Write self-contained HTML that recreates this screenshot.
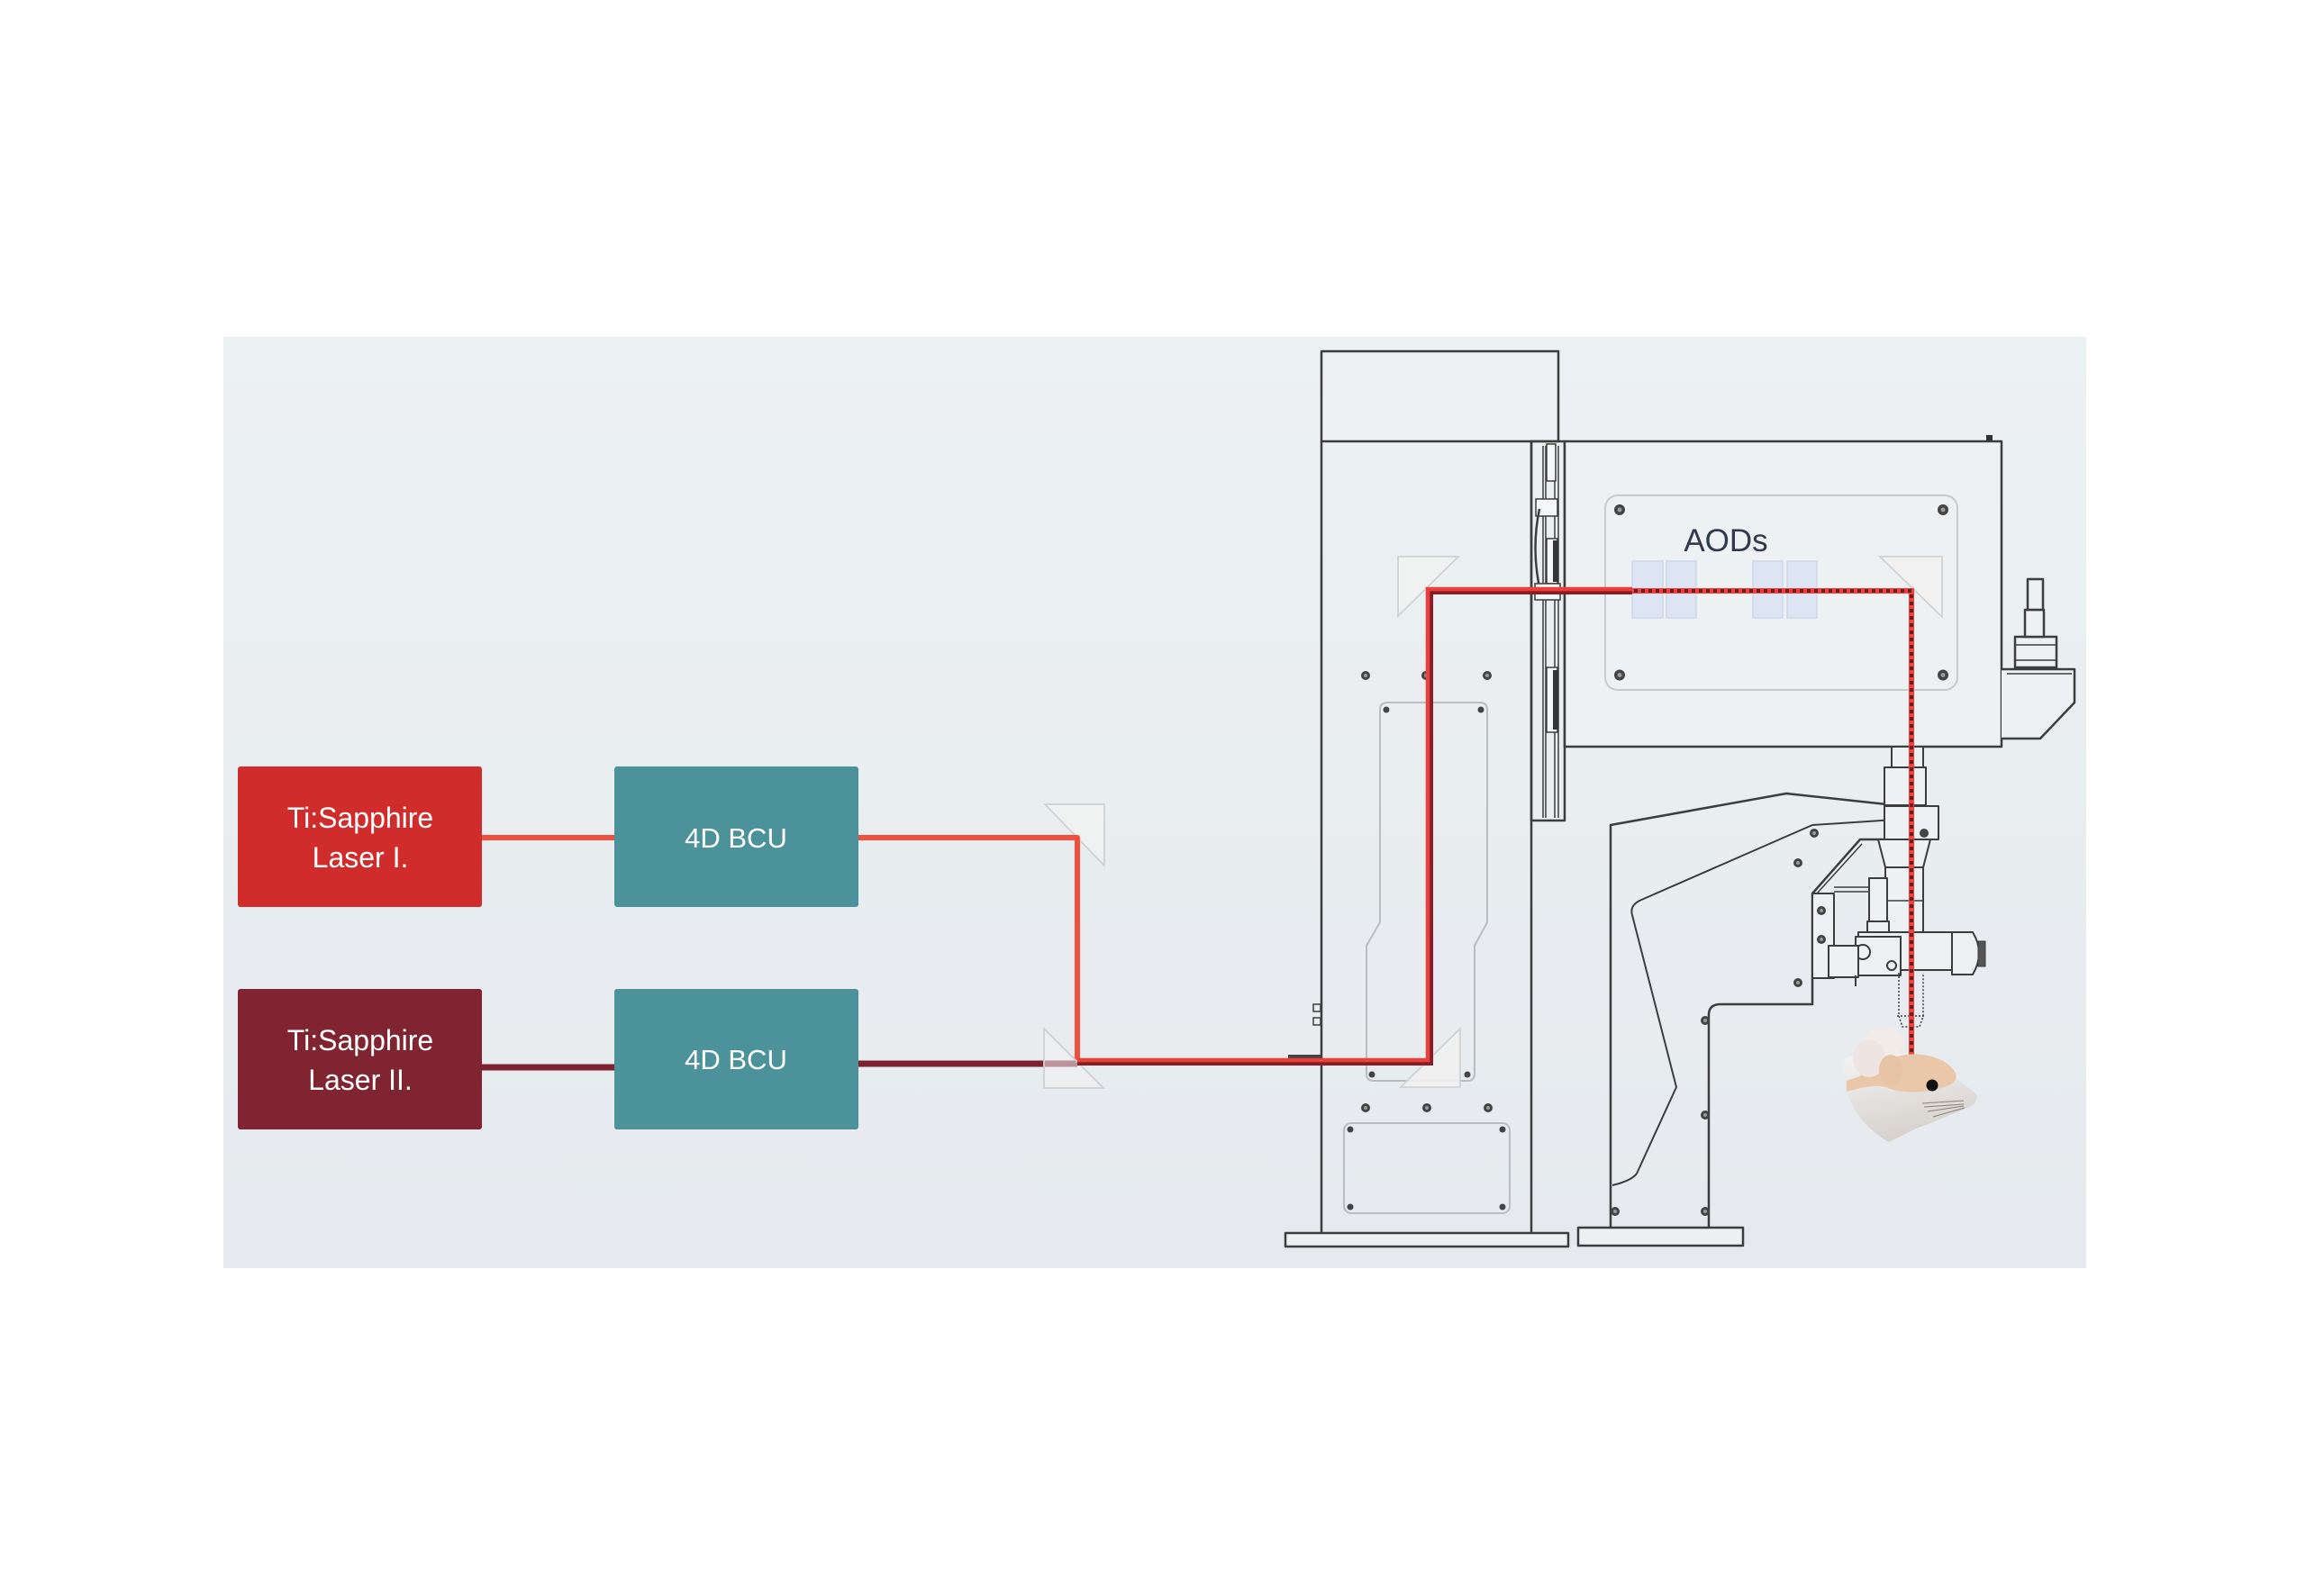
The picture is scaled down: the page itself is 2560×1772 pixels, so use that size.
<!DOCTYPE html>
<html>
<head>
<meta charset="utf-8">
<style>
  html, body { margin:0; padding:0; background:#ffffff; }
  svg { display:block; }
  .t { font-family: "Liberation Sans", Arial, sans-serif; fill:#ffffff; }
</style>
</head>
<body>
<svg width="2560" height="1772" viewBox="0 0 2560 1772" xmlns="http://www.w3.org/2000/svg">
  <defs>
    <linearGradient id="pg" x1="0" y1="0" x2="0" y2="1">
      <stop offset="0" stop-color="#ecf1f3"/>
      <stop offset="1" stop-color="#e6eaee"/>
    </linearGradient>
    <linearGradient id="mh" x1="0" y1="0" x2="0.3" y2="1">
      <stop offset="0" stop-color="#f4f4f4"/>
      <stop offset="1" stop-color="#d6d1cc"/>
    </linearGradient>
  </defs>

  <rect x="0" y="0" width="2560" height="1772" fill="#ffffff"/>
  <rect x="248" y="374" width="2068" height="1034" fill="url(#pg)"/>

  <!-- Boxes -->
  <rect x="264" y="851" width="271" height="156" rx="3" fill="#d02c2c"/>
  <rect x="264" y="1098" width="271" height="156" rx="3" fill="#812431"/>
  <rect x="682" y="851" width="271" height="156" rx="3" fill="#4b929a"/>
  <rect x="682" y="1098" width="271" height="156" rx="3" fill="#4b929a"/>

  <text class="t" x="400" y="919" font-size="32" text-anchor="middle">Ti:Sapphire</text>
  <text class="t" x="400" y="963" font-size="32" text-anchor="middle">Laser I.</text>
  <text class="t" x="400" y="1166" font-size="32" text-anchor="middle">Ti:Sapphire</text>
  <text class="t" x="400" y="1210" font-size="32" text-anchor="middle">Laser II.</text>
  <text class="t" x="817" y="941" font-size="31" text-anchor="middle">4D BCU</text>
  <text class="t" x="817" y="1187" font-size="31" text-anchor="middle">4D BCU</text>

  <!-- ================= Machine ================= -->
  <g fill="none" stroke="#3d3d3d" stroke-width="2.5" stroke-linejoin="round">
    <rect x="1467" y="390" width="263" height="100" fill="#edf1f3"/>
    <line x1="1467" y1="490" x2="1467" y2="1369"/>
    <line x1="1700" y1="490" x2="1700" y2="1369"/>
    <rect x="1700" y="490" width="37" height="421"/>
    <rect x="1427" y="1369" width="314" height="15" fill="#edf0f2"/>
    <rect x="1737" y="490" width="485" height="339" fill="#edf1f3"/>
    <path d="M2222,743 L2303,743 L2303,780 L2265,820 L2222,820" fill="#edf1f3"/>
    <line x1="2228" y1="748" x2="2300" y2="748" stroke-width="1.5"/>
    <rect x="2237" y="707" width="46" height="34" fill="#edf1f3"/>
    <line x1="2237" y1="716" x2="2283" y2="716" stroke-width="1.5"/>
    <line x1="2237" y1="733" x2="2283" y2="733" stroke-width="1.5"/>
    <rect x="2248" y="677" width="21" height="30" fill="#edf1f3"/>
    <rect x="2251" y="643" width="17" height="34" fill="#edf1f3"/>
    <path d="M1788,1363 L1788,916 L1983,881 L2113,895"/>
    <path d="M2113,895 Q2117,910 2104,910 L2012,916 L1820,1000 Q1809,1006 1812,1016 L1861,1207 L1817,1303 Q1811,1311 1790,1316" stroke-width="2"/>
    <path d="M1897,1363 L1897,1127 Q1897,1115 1910,1115 L2012,1115 L2012,992 L2065,932 L2092,932"/>
    <path d="M2017,992 L2067,937" stroke-width="1.5"/>
    <rect x="1752" y="1363" width="183" height="20" fill="#edf0f2"/>
    <rect x="2100" y="829" width="35" height="23" fill="#edf1f3" stroke-width="2"/>
    <rect x="2092" y="852" width="46" height="42" fill="#edf1f3" stroke-width="2"/>
    <rect x="2092" y="895" width="60" height="37" fill="#edf1f3" stroke-width="2"/>
    <path d="M2085,932 L2143,932 L2135,963 L2093,963 Z" fill="#edf1f3" stroke-width="2"/>
    <rect x="2093" y="963" width="42" height="73" fill="#edf1f3" stroke-width="2"/>
    <line x1="2093" y1="1000" x2="2135" y2="1000" stroke-width="1.5"/>
    <rect x="2012" y="992" width="24" height="94" fill="#edf1f3" stroke-width="2"/>
    <rect x="2075" y="975" width="20" height="53" fill="#edf1f3" stroke-width="2"/>
    <line x1="2036" y1="985" x2="2075" y2="985" stroke-width="1.5"/>
    <line x1="2036" y1="990" x2="2075" y2="990" stroke-width="1.5"/>
    <rect x="2073" y="1023" width="24" height="17" fill="#edf1f3" stroke-width="2"/>
    <rect x="2063" y="1035" width="104" height="42" fill="#edf1f3" stroke-width="2"/>
    <path d="M2167,1035 L2190,1035 Q2204,1058 2190,1082 L2167,1082 Z" fill="#edf1f3" stroke-width="2"/>
    <rect x="2196" y="1045" width="8" height="28" fill="#555" stroke-width="1"/>
    <rect x="2060" y="1040" width="50" height="43" fill="#edf1f3" stroke-width="2"/>
    <circle cx="2068" cy="1057" r="8" stroke-width="2"/>
    <circle cx="2100" cy="1072" r="5" stroke-width="2"/>
    <rect x="2030" y="1050" width="33" height="35" fill="#edf1f3" stroke-width="2"/>
    <line x1="2060" y1="1083" x2="2060" y2="1095" stroke-width="2"/>
    <path d="M2108,1080 L2108,1128 L2112,1140 L2131,1140 L2135,1128 L2135,1080" stroke-dasharray="2 2" stroke-width="1.5"/>
    <line x1="2106" y1="1128" x2="2137" y2="1128" stroke-dasharray="2 2" stroke-width="1.5"/>
  </g>

  <!-- rail internals -->
  <g stroke="#3d3d3d" fill="none" stroke-width="1.5">
    <line x1="1713" y1="495" x2="1713" y2="908"/>
    <line x1="1716" y1="495" x2="1716" y2="908"/>
    <line x1="1726" y1="495" x2="1726" y2="908"/>
    <line x1="1730" y1="495" x2="1730" y2="908"/>
    <rect x="1717" y="493" width="10" height="41" fill="#f4f6f7"/>
    <rect x="1705" y="554" width="24" height="19" fill="#f4f6f7"/>
    <path d="M1709,565 Q1700,608 1709,652" stroke-width="2.5"/>
    <rect x="1717" y="598" width="12" height="50" fill="#f4f6f7"/>
    <rect x="1724" y="600" width="6" height="46" fill="#333" stroke="none"/>
    <rect x="1717" y="741" width="12" height="72" fill="#f4f6f7"/>
    <rect x="1724" y="744" width="6" height="66" fill="#333" stroke="none"/>
    <rect x="1704" y="648" width="28" height="18" fill="#f4f6f7"/>
  </g>
  <rect x="2205" y="483" width="7" height="7" fill="#333"/>

  <!-- column inner panels (light lines) -->
  <g fill="none" stroke="#b9bdc1" stroke-width="2">
    <path d="M1532,788 Q1532,780 1540,780 L1643,780 Q1651,780 1651,788 L1651,1024 L1637,1050 L1637,1192 Q1637,1200 1629,1200 L1525,1200 Q1517,1200 1517,1192 L1517,1050 L1532,1024 Z"/>
    <rect x="1492" y="1247" width="184" height="100" rx="8"/>
    <rect x="1782" y="550" width="391" height="216" rx="14" stroke="#c6cace"/>
  </g>

  <!-- screws -->
  <g fill="#444" stroke="none">
    <circle cx="1539" cy="788" r="3.5"/><circle cx="1644" cy="788" r="3.5"/>
    <circle cx="1523" cy="1193" r="3.5"/><circle cx="1629" cy="1193" r="3.5"/>
    <circle cx="1499" cy="1254" r="3.5"/><circle cx="1668" cy="1254" r="3.5"/>
    <circle cx="1499" cy="1340" r="3.5"/><circle cx="1668" cy="1340" r="3.5"/>
  </g>
  <g fill="#444" stroke="none">
    <circle cx="1516" cy="750" r="5"/><circle cx="1583" cy="750" r="5"/><circle cx="1651" cy="750" r="5"/>
    <circle cx="1516" cy="1230" r="5"/><circle cx="1584" cy="1230" r="5"/><circle cx="1652" cy="1230" r="5"/>
    <circle cx="1798" cy="566" r="6"/><circle cx="2157" cy="566" r="6"/>
    <circle cx="1798" cy="749.5" r="6"/><circle cx="2157" cy="749.5" r="6"/>
    <circle cx="2014" cy="925" r="5"/><circle cx="1996" cy="958" r="5"/>
    <circle cx="2022" cy="1011" r="5"/><circle cx="2022" cy="1043" r="5"/>
    <circle cx="1996" cy="1091" r="5"/><circle cx="1893" cy="1133" r="5"/>
    <circle cx="1893" cy="1238" r="5"/><circle cx="1893" cy="1345" r="5"/>
    <circle cx="1793" cy="1345" r="5"/><circle cx="2136" cy="925" r="5"/>
  </g>
  <g fill="#9a9a9a" stroke="none">
    <circle cx="1516" cy="750" r="2"/><circle cx="1583" cy="750" r="2"/><circle cx="1651" cy="750" r="2"/>
    <circle cx="1516" cy="1230" r="2"/><circle cx="1584" cy="1230" r="2"/><circle cx="1652" cy="1230" r="2"/>
    <circle cx="1798" cy="566" r="2.5"/><circle cx="2157" cy="566" r="2.5"/>
    <circle cx="1798" cy="749.5" r="2.5"/><circle cx="2157" cy="749.5" r="2.5"/>
    <circle cx="2014" cy="925" r="2"/><circle cx="1996" cy="958" r="2"/>
    <circle cx="2022" cy="1011" r="2"/><circle cx="2022" cy="1043" r="2"/>
    <circle cx="1996" cy="1091" r="2"/><circle cx="1893" cy="1133" r="2"/>
    <circle cx="1893" cy="1238" r="2"/><circle cx="1893" cy="1345" r="2"/>
    <circle cx="1793" cy="1345" r="2"/>
  </g>

  <!-- column left connectors -->
  <g fill="none" stroke="#3d3d3d" stroke-width="1.5">
    <rect x="1458" y="1115" width="8" height="8"/>
    <rect x="1458" y="1130" width="8" height="8"/>
  </g>
  <rect x="1430" y="1171" width="36" height="7" fill="#444"/>

  <!-- AOD crystals -->
  <g fill="#dde5f4" stroke="#cdd7ea" stroke-width="1.5">
    <rect x="1812" y="623" width="34" height="63"/>
    <rect x="1850" y="623" width="33" height="63"/>
    <rect x="1946" y="623" width="33" height="63"/>
    <rect x="1984" y="623" width="33" height="63"/>
  </g>
  <text x="1916" y="612" font-family="'Liberation Sans', Arial, sans-serif" font-size="35" fill="#2f3a4c" text-anchor="middle">AODs</text>

  <!-- mirrors (behind beams) -->
  <g fill="#f1f1f1" fill-opacity="0.9" stroke="#cfd2d5" stroke-width="1.8">
    <polygon points="1160,893 1226,893 1226,961"/>
    <polygon points="1552,618 1619,618 1552,684"/>
    <polygon points="1621,1142 1621,1207 1555,1207"/>
    <polygon points="2087,618 2156,618 2156,685"/>
  </g>

  <!-- beams -->
  <line x1="535" y1="930" x2="682" y2="930" stroke="#f0503c" stroke-width="6"/>
  <line x1="535" y1="1185" x2="682" y2="1185" stroke="#7e2131" stroke-width="7"/>
  <polyline points="953,930 1196,930 1196,1181" fill="none" stroke="#f0503c" stroke-width="6" stroke-linejoin="round"/>
  <line x1="953" y1="1181" x2="1196" y2="1181" stroke="#7e2131" stroke-width="7"/>
  <polygon points="1159,1142 1159,1208 1225,1208" fill="#f1f1f1" fill-opacity="0.55" stroke="#cfd2d5" stroke-width="1.8"/>

  <!-- combined beam -->
  <polyline points="1196,1181 1589,1181 1589,658 1812,658" fill="none" stroke="#8a1c26" stroke-width="4"/>
  <polyline points="1196,1177 1585,1177 1585,654 1812,654" fill="none" stroke="#e8403a" stroke-width="4.5"/>
  <!-- dashed after AODs -->
  <polyline points="1812,656 2122,656 2122,1172" fill="none" stroke="#ec443b" stroke-width="6"/>
  <polyline points="1814,656 2122,656 2122,1172" fill="none" stroke="#7a1820" stroke-width="4" stroke-dasharray="4 4"/>

  <!-- mouse -->
  <path d="M2048,1175 C2044,1212 2058,1246 2097,1268 C2115,1259 2130,1251 2141,1248 C2161,1239 2179,1233 2188,1228 C2194,1224 2196,1220 2194,1215 C2186,1207 2178,1203 2170,1197 C2155,1186 2140,1176 2113,1170 C2090,1168 2064,1170 2048,1175 Z" fill="url(#mh)"/>
  <path d="M2050,1200 C2068,1194 2082,1188 2092,1180 C2108,1168 2137,1167 2157,1178 C2172,1187 2178,1198 2163,1205 C2142,1214 2110,1215 2094,1207 C2079,1204 2064,1208 2050,1212 Z" fill="#eac7a9"/>
  <ellipse cx="2091" cy="1157" rx="23" ry="16" fill="#f2ebe8"/>
  <ellipse cx="2075" cy="1175" rx="18" ry="21" fill="#eee4e1"/>
  <ellipse cx="2099" cy="1188" rx="13" ry="17" fill="#e8c4a6"/>
  <circle cx="2145" cy="1205" r="6.5" fill="#111"/>
  <g stroke="#8a7f79" stroke-width="1" fill="none">
    <path d="M2134,1225 L2180,1222"/>
    <path d="M2136,1229 L2180,1226"/>
    <path d="M2140,1234 L2180,1228"/>
    <path d="M2146,1240 L2181,1230"/>
  </g>
</svg>
</body>
</html>
